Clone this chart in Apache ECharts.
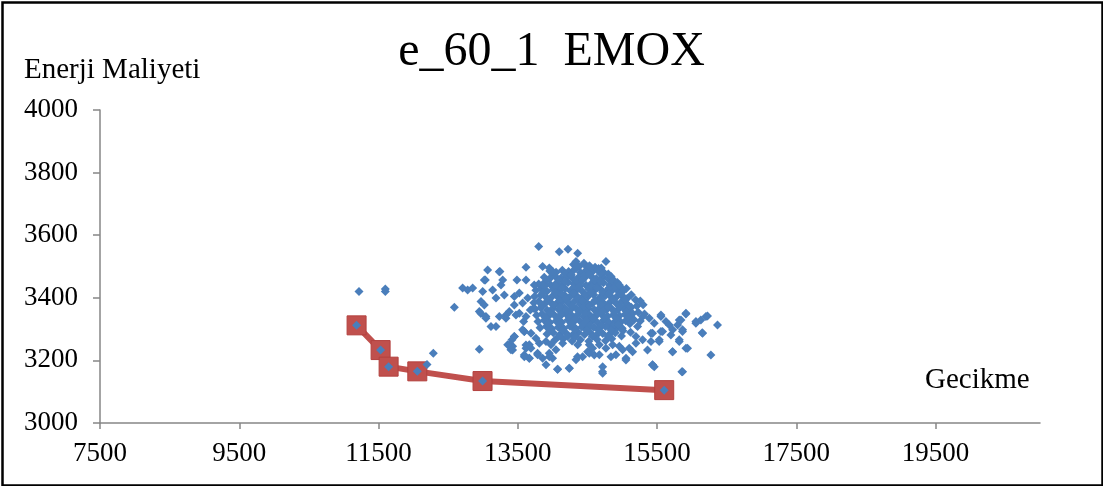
<!DOCTYPE html>
<html>
<head>
<meta charset="utf-8">
<script src="https://cdn.jsdelivr.net/npm/echarts@6/dist/echarts.min.js"></script>
<style>
html,body{margin:0;padding:0;background:#fff;}
#c{width:1103px;height:486px;}
</style>
</head>
<body>
<div id="c"></div>
<script>
const chartTitle = 'e_60_1  EMOX';
const yName = 'Enerji Maliyeti';
const xName = 'Gecikme';
const xTickValues = [7500, 9500, 11500, 13500, 15500, 17500, 19500];

// Pareto front (red line with squares)
const paretoFront = [[11185,3312],[11530,3233],[11645,3180],[12057,3165],[12994,3134],[15603,3105]];

// Isolated / halo points
const haloPoints = [
[11220,3420],[11598,3420],[11598,3428],[12589,3370],[12287,3223],[12196,3187],[12948,3236],
[13800,3564],[14096,3547],[14221,3555],[14360,3542],[14766,3516],[14336,3516],
[13857,3500],[13953,3495],[14001,3484],[13618,3498],[13244,3484],[13067,3489],
[13034,3457],[13283,3457],[13259,3441],[13618,3457],[13488,3457],[13737,3441],
[12708,3431],[12780,3425],[12852,3431],[12996,3420],[13139,3425],[13187,3399],
[13307,3409],[13450,3404],[13522,3415],[12972,3388],[13019,3377],[12948,3356],
[13043,3335],[13115,3308],[13187,3308],[13235,3340],[13331,3345],[13378,3356],
[13474,3345],[13522,3351],[13594,3292],[13584,3324],[13618,3340],[13680,3361],
[13723,3367],[13450,3377],[13570,3383],[13642,3399],[13019,3457],[13234,3483],
[12971,3350],[13043,3340],[13330,3335],[13450,3276],[13378,3249],[13425,3233],
[13593,3292],[13617,3249],[13689,3239],[13593,3217],[13665,3207],[13784,3223],
[13952,3223],[14000,3207],[14071,3172],[14239,3175],[14358,3212],[14502,3228],[14598,3217],
[14958,3441],[15006,3420],[15101,3372],[15293,3340],[15389,3335],[15460,3319],
[15556,3340],[15628,3324],[15676,3313],[15795,3313],[15867,3298],[15915,3351],
[15819,3329],[16059,3324],[16130,3329],[16202,3340],[16154,3287],[15724,3298],
[15556,3292],[15436,3287],[15413,3260],[15532,3266],[15293,3266],[15197,3276],
[15819,3266],[15915,3239],[15724,3228],[15867,3164],[15436,3186],[15460,3180],
[15054,3207],[15006,3234],[14910,3218],[14838,3212],[14719,3180],[14719,3159],
[14671,3218],[14527,3223],[14431,3212],[14336,3202],[14240,3175],[14072,3172],
[13905,3186],[13857,3207],[13953,3212],[13785,3218],[13666,3207],[13594,3212],
[13618,3239],[13666,3250],[13426,3245],[13402,3234],[13355,3250],[13417,3266],
[13450,3276],[13570,3298],[13690,3287],[13761,3271],[13809,3255],[13905,3260],
[13977,3250],[14048,3234],[14144,3255],[14216,3276],[14360,3250],[14527,3250],
[14575,3239],[14671,3250],[14766,3239],[14862,3250],[14958,3245],[15101,3239],
[15149,3228],[15197,3255],
[16368,3313],[16225,3342],[16058,3319],[16149,3288],[16273,3217],[15914,3348],
[15843,3329],[15866,3292],[15938,3239],[15819,3260],[15699,3281],[15722,3228],
[15531,3260],[15579,3292],[15556,3345],[15435,3185],[15857,3164],[15412,3287],
[15363,3233],[15053,3201],[14717,3164],[14528,3499],[14646,3489]
];

// Dense core of the cloud (main rows)
const corePoints = [
[14300,3506],[14380,3500],[14450,3510],[14530,3502],[14610,3498],[14700,3495],
[13960,3486],[14050,3482],[14140,3488],[14230,3484],[14310,3490],[14400,3481],[14480,3487],[14570,3483],[14650,3489],[14740,3480],[14800,3476],
[13880,3466],[13960,3462],[14040,3468],[14120,3463],[14210,3469],[14290,3461],[14380,3467],[14460,3464],[14550,3470],[14630,3462],[14720,3466],[14800,3461],[14870,3458],
[13800,3444],[13880,3448],[13970,3442],[14050,3446],[14140,3441],[14220,3449],[14310,3443],[14390,3447],[14480,3440],[14560,3446],[14650,3442],[14730,3448],[14820,3441],[14900,3445],[14960,3438],
[13760,3424],[13840,3428],[13920,3421],[14010,3427],[14090,3423],[14180,3429],[14260,3422],[14350,3426],[14430,3420],[14520,3428],[14600,3423],[14690,3427],[14770,3421],[14860,3425],[14940,3422],[15010,3426],
[13740,3404],[13830,3408],[13910,3401],[14000,3406],[14080,3402],[14170,3409],[14250,3403],[14340,3407],[14420,3400],[14510,3405],[14590,3410],[14680,3402],[14760,3407],[14850,3401],[14930,3406],[15010,3403],[15070,3398],
[13730,3384],[13800,3388],[13890,3381],[13970,3386],[14060,3382],[14140,3389],[14230,3383],[14310,3387],[14400,3380],[14480,3386],[14570,3382],[14650,3388],[14740,3381],[14820,3385],[14910,3383],[14990,3387],[15070,3380],
[13750,3364],[13830,3368],[13920,3361],[14000,3366],[14090,3362],[14170,3369],[14260,3363],[14340,3367],[14430,3360],[14510,3366],[14600,3362],[14680,3368],[14770,3361],[14850,3365],[14940,3363],[15020,3367],[15090,3360],
[13770,3344],[13850,3348],[13940,3341],[14020,3346],[14110,3342],[14190,3349],[14280,3343],[14360,3347],[14450,3340],[14530,3346],[14620,3342],[14700,3348],[14790,3341],[14870,3345],[14960,3343],[15040,3347],[15100,3340],
[13790,3324],[13880,3328],[13960,3321],[14050,3326],[14130,3322],[14220,3329],[14300,3323],[14390,3327],[14470,3320],[14560,3326],[14640,3322],[14730,3328],[14810,3321],[14900,3325],[14980,3323],[15050,3327],
[13820,3304],[13910,3308],[13990,3301],[14080,3306],[14160,3302],[14250,3309],[14330,3303],[14420,3307],[14500,3300],[14590,3306],[14670,3302],[14760,3308],[14840,3301],[14930,3305],[15000,3303],
[13920,3284],[14010,3288],[14100,3281],[14200,3286],[14290,3282],[14370,3289],[14460,3283],[14550,3287],[14630,3280],[14720,3286],[14810,3282],[14900,3288],
[14030,3264],[14150,3268],[14280,3262],[14400,3266],[14520,3261],[14640,3267],[14760,3263],[14850,3269]
];

// Dense core of the cloud (in-between rows, with gaps)
const corePointsB = [
[14340,3496],[14500,3497],[14660,3494],
[14000,3477],[14180,3476],[14270,3473],[14440,3471],[14520,3476],[14690,3477],[14840,3468],
[13920,3457],[14090,3456],[14180,3451],[14350,3453],[14430,3457],[14600,3456],[14690,3452],[14860,3451],[14930,3449],
[13880,3437],[14050,3436],[14130,3431],[14300,3433],[14390,3437],[14560,3436],[14640,3432],[14810,3431],[14900,3435],[15060,3430],
[13860,3417],[14040,3416],[14130,3411],[14300,3413],[14470,3410],[14550,3416],[14720,3417],[14810,3411],[14970,3413],[15130,3410],
[13930,3392],[14100,3391],[14190,3398],[14360,3397],[14440,3390],[14610,3392],[14700,3397],[14870,3395],[15040,3397],[15190,3394],[15260,3390],
[13850,3377],[14020,3376],[14110,3371],[14280,3373],[14450,3370],[14530,3376],[14700,3377],[14790,3371],[14960,3373],[15130,3370],[15210,3374],[15300,3378],
[13960,3352],[14130,3351],[14210,3358],[14380,3357],[14470,3350],[14640,3352],[14720,3357],[14890,3355],[15060,3357],[15150,3350],[15230,3354],[15320,3348],
[13900,3337],[14070,3336],[14240,3338],[14320,3333],[14490,3330],[14580,3336],[14750,3337],[14920,3335],[15090,3337],[15170,3330],[15260,3326],
[13930,3317],[14100,3316],[14270,3318],[14440,3317],[14530,3310],[14700,3312],[14870,3311],[14950,3315],[15110,3317],[15220,3308],
[13960,3297],[14140,3296],[14320,3298],[14490,3297],[14660,3296],[14840,3297],[15010,3295],[15120,3290],
[14090,3277],[14330,3276],[14570,3277],[14800,3276],[14990,3278]
];

const FONT = 'Liberation Serif';
const plain = v => String(v);
const chart = echarts.init(document.getElementById('c'), null, {renderer: 'canvas'});
chart.setOption({
  backgroundColor: '#ffffff',
  animation: false,
  title: {
    text: chartTitle, left: 'center', top: 23,
    textStyle: {fontFamily: FONT, fontSize: 48, fontWeight: 'normal', color: '#000'}
  },
  grid: {left: 100, right: 63, top: 110, bottom: 63},
  xAxis: {
    type: 'value', min: 7500, max: 21000, interval: 2000,
    axisLine: {show: true, lineStyle: {color: '#868686', width: 1.5}},
    axisTick: {show: true, length: 6, lineStyle: {color: '#868686', width: 1.5}, customValues: xTickValues},
    axisLabel: {customValues: xTickValues, formatter: plain, fontFamily: FONT, fontSize: 27, color: '#000', margin: 17},
    splitLine: {show: false}
  },
  yAxis: {
    type: 'value', min: 3000, max: 4000, interval: 200,
    axisLine: {show: true, lineStyle: {color: '#868686', width: 1.5}},
    axisTick: {show: true, length: 7, lineStyle: {color: '#868686', width: 1.5}},
    axisLabel: {formatter: plain, fontFamily: FONT, fontSize: 27, color: '#000', margin: 22},
    splitLine: {show: false}
  },
  graphic: [
    {type: 'rect', left: 0, top: 0, shape: {x: 1, y: 1, width: 1100, height: 483}, style: {fill: 'none', stroke: '#000', lineWidth: 2.5}, z: 100},
    {type: 'text', x: 24, y: 70, style: {text: yName, font: '29px "Liberation Serif"', fill: '#000', textAlign: 'left', textVerticalAlign: 'middle'}},
    {type: 'text', x: 925, y: 380, style: {text: xName, font: '29px "Liberation Serif"', fill: '#000', textAlign: 'left', textVerticalAlign: 'middle'}}
  ],
  series: [
    {
      type: 'line', data: paretoFront, z: 2,
      lineStyle: {color: '#c0504d', width: 6},
      symbol: 'rect', symbolSize: 19,
      itemStyle: {color: '#c0504d', borderColor: '#b3413e', borderWidth: 1}
    },
    {
      type: 'scatter', data: corePoints.concat(corePointsB, haloPoints, paretoFront), z: 3,
      symbol: 'diamond', symbolSize: 9,
      itemStyle: {color: '#4a7ebb', opacity: 1}
    }
  ]
});
</script>
</body>
</html>
